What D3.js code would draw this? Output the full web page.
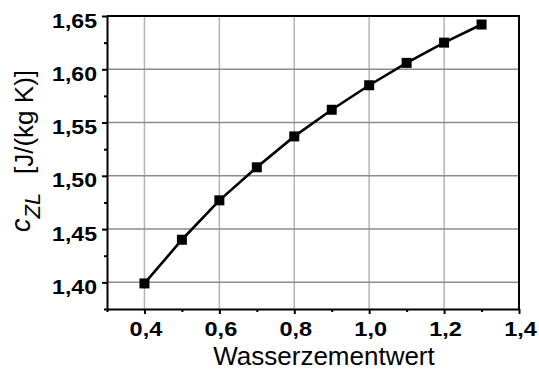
<!DOCTYPE html>
<html>
<head>
<meta charset="utf-8">
<script src="https://cdn.jsdelivr.net/npm/d3@7"></script>
<style>
  html, body { margin: 0; padding: 0; background: #fff; }
  svg { display: block; font-family: "Liberation Sans", Arial, sans-serif; }
</style>
</head>
<body>
<svg id="chart" width="539" height="372"></svg>
<script>
// Water-cement ratio vs. specific heat capacity of hardened cement paste
const wzWerte = [0.4, 0.5, 0.6, 0.7, 0.8, 0.9, 1.0, 1.1, 1.2, 1.3];
const czlWerte = [1.399, 1.440, 1.477, 1.508, 1.537, 1.562, 1.585, 1.606, 1.625, 1.642];

const xMajorTicks = [0.4, 0.6, 0.8, 1.0, 1.2, 1.4];
const xMinorTicks = [0.3, 0.5, 0.7, 0.9, 1.1, 1.3];
const yMajorTicks = [1.40, 1.45, 1.50, 1.55, 1.60, 1.65];
const yMinorTicks = [1.375, 1.425, 1.475, 1.525, 1.575, 1.625];
const xGridTicks = [0.4, 0.6, 0.8, 1.0, 1.2];
const yGridTicks = [1.40, 1.45, 1.50, 1.55, 1.60];

const xTitle = "Wasserzementwert";
const yUnit = "[J/(kg K)]";

const margin = { left: 107, right: 20, top: 16, bottom: 63 };
const W = 539, H = 372;
const svg = d3.select("#chart");

const x = d3.scaleLinear().domain([0.3, 1.4]).range([margin.left, W - margin.right]);
const y = d3.scaleLinear().domain([1.375, 1.65]).range([H - margin.bottom, margin.top]);

const fmt = d => d3.format(".1f")(d).replace(".", ",");
const fmtY = d => d3.format(".2f")(d).replace(".", ",");

// grid
svg.append("g").selectAll("line").data(xGridTicks).join("line")
  .attr("x1", d => x(d)).attr("x2", d => x(d))
  .attr("y1", y.range()[0]).attr("y2", y.range()[1])
  .attr("stroke", "#b4b4b4").attr("stroke-width", 1.5);
svg.append("g").selectAll("line").data(yGridTicks).join("line")
  .attr("x1", x.range()[0]).attr("x2", x.range()[1])
  .attr("y1", d => y(d)).attr("y2", d => y(d))
  .attr("stroke", "#8c8c8c").attr("stroke-width", 1.5);

// frame (top and right)
svg.append("path")
  .attr("d", `M${x.range()[0]},${y.range()[1]}H${x.range()[1]}V${y.range()[0]}`)
  .attr("fill", "none").attr("stroke", "#000").attr("stroke-width", 2);

// minor ticks
svg.append("g").attr("transform", `translate(0,${y.range()[0]})`)
  .call(d3.axisBottom(x).tickValues(xMinorTicks).tickSize(3).tickFormat(""))
  .call(g => g.select(".domain").remove())
  .call(g => g.selectAll("line").attr("stroke-width", 2));
svg.append("g").attr("transform", `translate(${x.range()[0]},0)`)
  .call(d3.axisLeft(y).tickValues(yMinorTicks).tickSize(3).tickFormat(""))
  .call(g => g.select(".domain").remove())
  .call(g => g.selectAll("line").attr("stroke-width", 2));

// x axis
svg.append("g").attr("transform", `translate(0,${y.range()[0]})`)
  .call(d3.axisBottom(x).tickValues(xMajorTicks).tickSize(5).tickSizeOuter(0).tickFormat(fmt))
  .call(g => g.select(".domain").attr("stroke-width", 2))
  .call(g => g.selectAll("line").attr("stroke-width", 2))
  .call(g => g.selectAll("text")
    .attr("y", null).attr("dy", null)
    .attr("transform", "translate(1,26.5) scale(1.12,1)")
    .attr("font-size", 21).attr("font-weight", "bold").attr("fill", "#000")
    .attr("font-family", "Liberation Sans, Arial, sans-serif"));

// y axis
svg.append("g").attr("transform", `translate(${x.range()[0]},0)`)
  .call(d3.axisLeft(y).tickValues(yMajorTicks).tickSize(5).tickSizeOuter(0).tickFormat(fmtY))
  .call(g => g.select(".domain").attr("stroke-width", 2))
  .call(g => g.selectAll("line").attr("stroke-width", 2))
  .call(g => g.selectAll("text")
    .attr("x", null).attr("dy", null)
    .attr("transform", "translate(-10,11) scale(1.1,1)")
    .attr("text-anchor", "end")
    .attr("font-size", 21).attr("font-weight", "bold").attr("fill", "#000")
    .attr("font-family", "Liberation Sans, Arial, sans-serif"));

// data line and markers
const line = d3.line().x((d, i) => x(wzWerte[i])).y(d => y(d));
svg.append("path").datum(czlWerte)
  .attr("d", line).attr("fill", "none")
  .attr("stroke", "#000").attr("stroke-width", 2.6);
const ms = 10;
svg.append("g").selectAll("rect").data(czlWerte).join("rect")
  .attr("x", (d, i) => x(wzWerte[i]) - ms / 2)
  .attr("y", d => y(d) - ms / 2)
  .attr("width", ms).attr("height", ms)
  .attr("fill", "#000");

// axis titles
svg.append("text")
  .attr("transform", "translate(324,365) scale(1.04,1)")
  .attr("text-anchor", "middle")
  .attr("font-size", 25).attr("fill", "#000")
  .text(xTitle);

const yl = svg.append("text")
  .attr("transform", "translate(30,232) rotate(-90)")
  .attr("font-size", 27).attr("fill", "#000");
yl.append("tspan").attr("font-style", "italic").text("c");
yl.append("tspan").attr("font-style", "italic").attr("font-size", 22).attr("dy", 10).text("ZL");

svg.append("text")
  .attr("transform", "translate(33,174) rotate(-90)")
  .attr("font-size", 26).attr("fill", "#000")
  .text(yUnit);
</script>
</body>
</html>
